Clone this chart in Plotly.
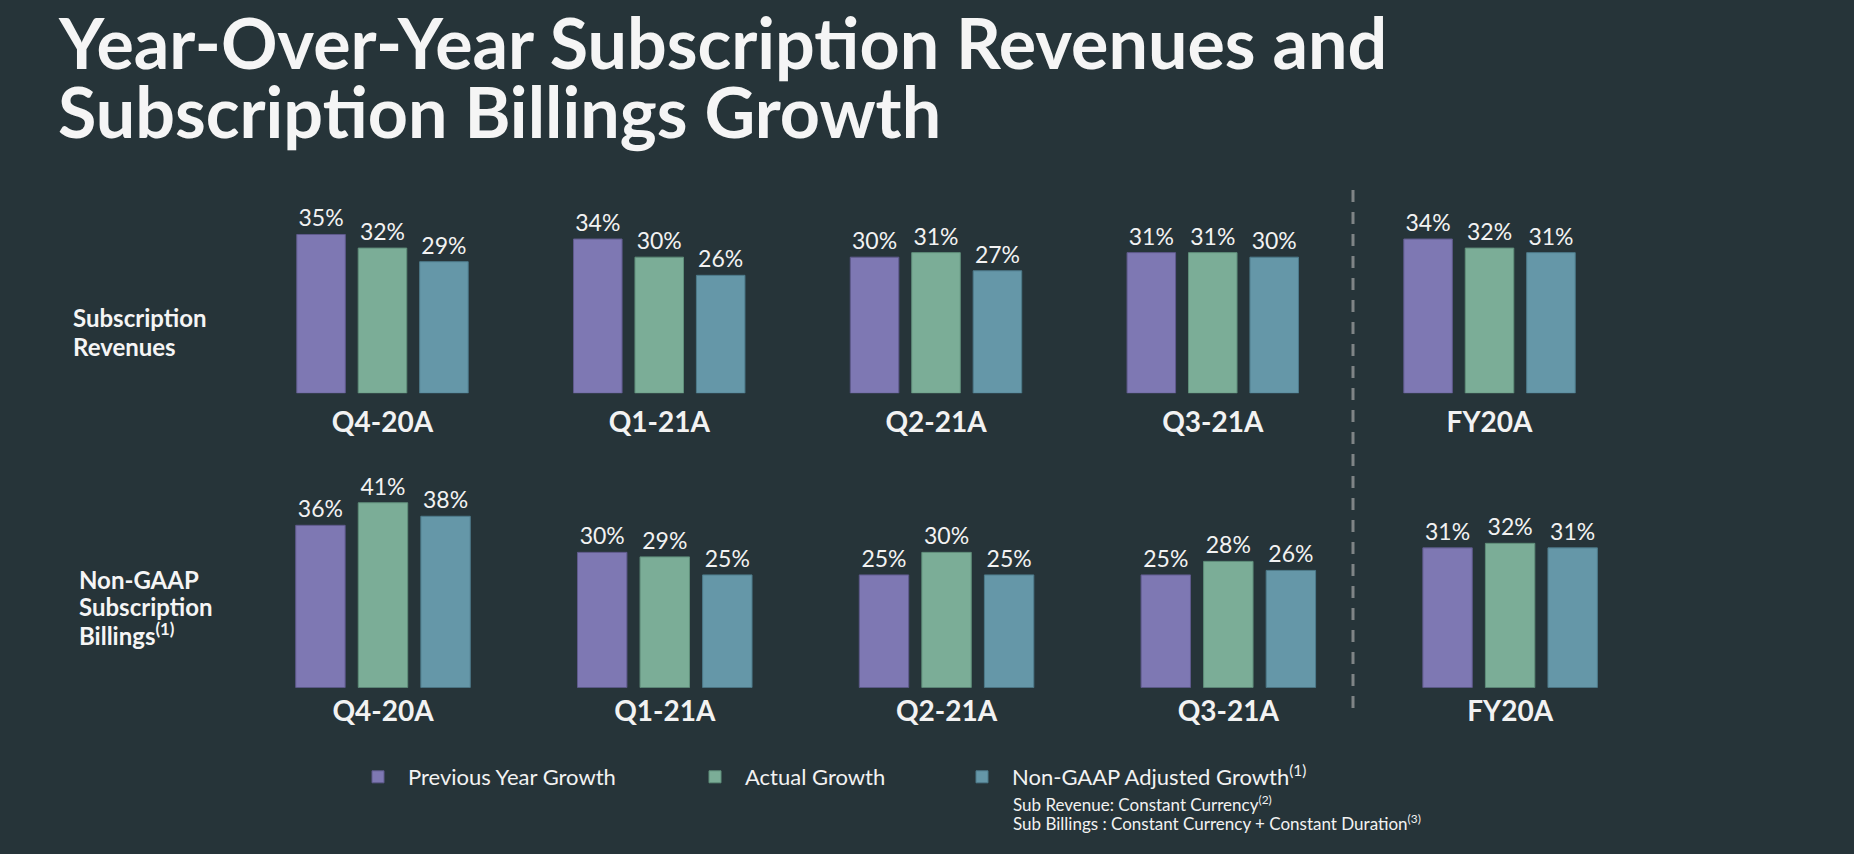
import plotly.graph_objects as go

categories = ["Q4-20A", "Q1-21A", "Q2-21A", "Q3-21A", "FY20A"]
series_names = ["Previous Year Growth", "Actual Growth", "Non-GAAP Adjusted Growth<sup>(1)</sup>"]
rev_prev = [35, 34, 30, 31, 34]
rev_actual = [32, 30, 31, 31, 32]
rev_adj = [29, 26, 27, 30, 31]
bill_prev = [36, 30, 25, 25, 31]
bill_actual = [41, 29, 30, 28, 32]
bill_adj = [38, 25, 25, 26, 31]

colors = ["#7e78b3", "#7bad97", "#6597a8"]
edge = ["#5f5a8c", "#5f8e7a", "#4d7a8a"]
BG = "#263439"
FONT = "Lato"
W, H = 1854, 854

fig = go.Figure()

legend_ids = ["legend", "legend2", "legend3"]
rows = [
    ("x", "y", [rev_prev, rev_actual, rev_adj], True),
    ("x2", "y2", [bill_prev, bill_actual, bill_adj], False),
]
for xa, ya, vals, show in rows:
    for i, v in enumerate(vals):
        fig.add_trace(go.Bar(
            x=categories, y=v, name=series_names[i], legendgroup=str(i),
            legend=legend_ids[i],
            showlegend=show, xaxis=xa, yaxis=ya,
            marker=dict(color=colors[i], line=dict(color=edge[i], width=1)),
            text=[f"{x}%" for x in v], textposition="outside",
            textfont=dict(family=FONT, size=23, color="#f2f2f2"),
            cliponaxis=False, hoverinfo="skip",
        ))

def px_x(p):
    return p / W

def px_y(p):
    return 1 - p / H

axis_common = dict(showgrid=False, zeroline=False, showline=False, ticks="",
                   tickfont=dict(family=FONT, size=28, color="#f2f2f2", weight=700),
                   fixedrange=True)

def legend_at(xpx):
    return dict(orientation="h", x=px_x(xpx), y=px_y(777), xanchor="left", yanchor="middle",
                font=dict(family=FONT, size=22, color="#f2f2f2"),
                bgcolor="rgba(0,0,0,0)", itemwidth=50)

fig.update_layout(
    width=W, height=H, margin=dict(l=0, r=0, t=0, b=0),
    paper_bgcolor=BG, plot_bgcolor=BG,
    barmode="group", bargap=0.334, bargroupgap=0.21,
    font=dict(family=FONT, color="#f2f2f2"),
    xaxis=dict(domain=[px_x(244.1), px_x(1627.9)], anchor="y", ticklabelstandoff=10, **axis_common),
    yaxis=dict(domain=[px_y(393.3), px_y(189.1)], range=[0, 45], visible=False, anchor="x"),
    xaxis2=dict(domain=[px_x(242.1), px_x(1651.0)], anchor="y2", ticklabelstandoff=4, **axis_common),
    yaxis2=dict(domain=[px_y(687.7), px_y(484.7)], range=[0, 45], visible=False, anchor="x2"),
    legend=legend_at(348),
    legend2=legend_at(685),
    legend3=legend_at(952),
    showlegend=True,
)

# divider
fig.add_shape(type="line", xref="paper", yref="paper",
              x0=px_x(1353), x1=px_x(1353), y0=px_y(190), y1=px_y(717),
              line=dict(color="#7f8486", width=3, dash="12px,10px"))

title_lines = [("<b>Year-Over-Year Subscription Revenues and</b>", 42),
               ("<b>Subscription Billings Growth</b>", 111)]
for t, y in title_lines:
    fig.add_annotation(text=t, x=px_x(56), y=px_y(y), xref="paper", yref="paper",
                       xanchor="left", yanchor="middle", showarrow=False,
                       font=dict(family=FONT, size=70, color="#f5f5f5"))

row_labels = [("<b>Subscription</b>", 71, 317), ("<b>Revenues</b>", 71, 346),
              ("<b>Non-GAAP</b>", 77, 579), ("<b>Subscription</b>", 77, 606),
              ("<b>Billings<sup>(1)</sup></b>", 77, 634)]
for t, x, y in row_labels:
    fig.add_annotation(text=t, x=px_x(x), y=px_y(y), xref="paper", yref="paper",
                       xanchor="left", yanchor="middle", showarrow=False,
                       font=dict(family=FONT, size=24, color="#f5f5f5"))

for t, y in [("Sub Revenue: Constant Currency<sup>(2)</sup>", 803),
             ("Sub Billings : Constant Currency + Constant Duration<sup>(3)</sup>", 822)]:
    fig.add_annotation(text=t, x=px_x(1011), y=px_y(y), xref="paper", yref="paper",
                       xanchor="left", yanchor="middle", showarrow=False,
                       font=dict(family=FONT, size=17, color="#f2f2f2"))

fig.write_html("out.html")
